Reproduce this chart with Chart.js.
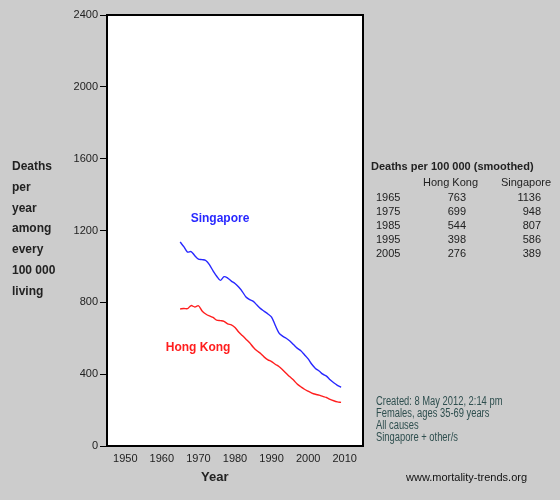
<!DOCTYPE html>
<html>
<head>
<meta charset="utf-8">
<script src="https://cdn.jsdelivr.net/npm/chart.js@4"></script>
<style>
  body { margin: 0; background: #cccccc; font-family: "Liberation Sans", Arial, sans-serif; }
  #wrap { position: relative; width: 560px; height: 500px; }
  canvas { position: absolute; left: 0; top: 0; }
  .txt { position: absolute; white-space: nowrap; color: #222; font-size: 11px; }
  #ylab { left: 12px; top: 156px; font-weight: bold; font-size: 12px; line-height: 20.8px; color: #222; }
  #xlab { left: 201px; top: 469px; font-weight: bold; font-size: 13px; }
  #tbl { left: 371px; top: 158px; }
  #tbl table { border-collapse: collapse; font-size: 11px; color: #222; }
  #tbl td { padding: 0; height: 14px; line-height: 14px; }
  #tbl tr.hd td { height: 15px; line-height: 16px; }
  #tbl td.hk { text-align: right; padding-right: 12px; }
  #tbl td.sg { text-align: right; padding-right: 13px; }
  #tbl td.yr { padding-left: 5px; }
  #notes { left: 376px; top: 395px; line-height: 12px; color: #2f4f4f; font-size: 12px; transform: scaleX(0.78); transform-origin: 0 0; }
  #url { left: 406px; top: 471px; font-size: 11px; color: #111; }
</style>
</head>
<body>
<div id="wrap">
  <canvas id="chart" width="560" height="500"></canvas>
  <div class="txt" id="ylab">Deaths<br>per<br>year<br>among<br>every<br>100 000<br>living</div>
  <div class="txt" id="xlab">Year</div>
  <div class="txt" id="tbl">
    <div style="font-weight:bold;font-size:11px;line-height:16px;">Deaths per 100 000 (smoothed)</div>
    <table>
      <tr class="hd"><td style="width:52px"></td><td style="width:52px;text-align:left">Hong Kong</td><td style="width:73px;text-align:right;padding-right:3px">Singapore</td></tr>
      <tr><td class="yr">1965</td><td class="hk">763</td><td class="sg">1136</td></tr>
      <tr><td class="yr">1975</td><td class="hk">699</td><td class="sg">948</td></tr>
      <tr><td class="yr">1985</td><td class="hk">544</td><td class="sg">807</td></tr>
      <tr><td class="yr">1995</td><td class="hk">398</td><td class="sg">586</td></tr>
      <tr><td class="yr">2005</td><td class="hk">276</td><td class="sg">389</td></tr>
    </table>
  </div>
  <div class="txt" id="notes">Created: 8 May 2012, 2:14 pm<br>Females, ages 35-69 years<br>All causes<br>Singapore + other/s</div>
  <div class="txt" id="url">www.mortality-trends.org</div>
</div>
<script>
const years = [];
for (let y = 1965; y <= 2009; y++) years.push(y);

const singapore = [
  1136, 1110, 1080, 1083, 1060, 1041, 1038, 1033, 1010, 975,
  945, 922, 943, 935, 918, 905, 885, 860, 830, 815,
  805, 785, 765, 750, 735, 718, 672, 630, 612, 600,
  585, 565, 545, 530, 508, 485, 455, 432, 418, 400,
  389, 369, 352, 338, 327
];
const hongKong = [
  763, 766, 765, 782, 774, 781, 752, 735, 724, 716,
  701, 698, 694, 680, 675, 660, 635, 615, 595, 575,
  550, 530, 515, 495, 480, 470, 455, 443, 425, 405,
  385, 367, 345, 330, 316, 305, 295, 288, 283, 276,
  270, 260, 252, 246, 243
];
const xTicks = [1950, 1960, 1970, 1980, 1990, 2000, 2010];
const yTicks = [0, 400, 800, 1200, 1600, 2000, 2400];

// series name labels placed in data coordinates
const seriesLabels = [
  { text: 'Singapore', x: 1975.9, y: 1264, color: 'rgb(40,40,255)' },
  { text: 'Hong Kong', x: 1969.9, y: 546, color: 'rgb(255,30,30)' }
];

const plotBox = {
  id: 'plotBox',
  beforeDatasetsDraw(chart) {
    const { ctx, chartArea: a } = chart;
    ctx.save();
    ctx.fillStyle = '#ffffff';
    ctx.fillRect(a.left, a.top, a.right - a.left, a.bottom - a.top);
    ctx.restore();
  },
  afterDatasetsDraw(chart) {
    const { ctx, chartArea: a, scales } = chart;
    ctx.save();
    ctx.strokeStyle = '#000';
    ctx.lineWidth = 2;
    ctx.strokeRect(a.left, a.top, a.right - a.left, a.bottom - a.top);
    ctx.font = 'bold 12px "Liberation Sans", Arial, sans-serif';
    ctx.textAlign = 'center';
    ctx.textBaseline = 'middle';
    seriesLabels.forEach(l => {
      ctx.fillStyle = l.color;
      ctx.fillText(l.text, scales.x.getPixelForValue(l.x), scales.y.getPixelForValue(l.y));
    });
    ctx.restore();
  }
};

new Chart(document.getElementById('chart').getContext('2d'), {
  type: 'line',
  data: {
    datasets: [
      {
        label: 'Singapore',
        data: years.map((y, i) => ({ x: y, y: singapore[i] })),
        borderColor: 'rgb(40,40,255)',
        borderWidth: 1.4,
        pointRadius: 0,
        tension: 0.3
      },
      {
        label: 'Hong Kong',
        data: years.map((y, i) => ({ x: y, y: hongKong[i] })),
        borderColor: 'rgb(255,30,30)',
        borderWidth: 1.4,
        pointRadius: 0,
        tension: 0.3
      }
    ]
  },
  options: {
    responsive: false,
    animation: false,
    layout: { padding: { left: 0, top: 15, right: 197, bottom: 0 } },
    scales: {
      x: {
        type: 'linear',
        min: 1945,
        max: 2015,
        afterBuildTicks: s => { s.ticks = xTicks.map(v => ({ value: v })); },
        afterFit: s => { s.height = 54; },
        ticks: { color: '#222', font: { size: 11, family: '"Liberation Sans", Arial' }, padding: 6, maxRotation: 0, callback: v => String(v) },
        grid: { display: false, drawTicks: false },
        border: { display: false }
      },
      y: {
        min: 0,
        max: 2400,
        afterBuildTicks: s => { s.ticks = yTicks.map(v => ({ value: v })); },
        afterFit: s => { s.width = 107; },
        ticks: { color: '#222', font: { size: 11, family: '"Liberation Sans", Arial' }, padding: 2, callback: v => String(v) },
        grid: { drawOnChartArea: false, tickLength: 7, color: '#000', lineWidth: 1 },
        border: { display: false }
      }
    },
    plugins: {
      legend: { display: false },
      tooltip: { enabled: false }
    }
  },
  plugins: [plotBox]
});
</script>
</body>
</html>
